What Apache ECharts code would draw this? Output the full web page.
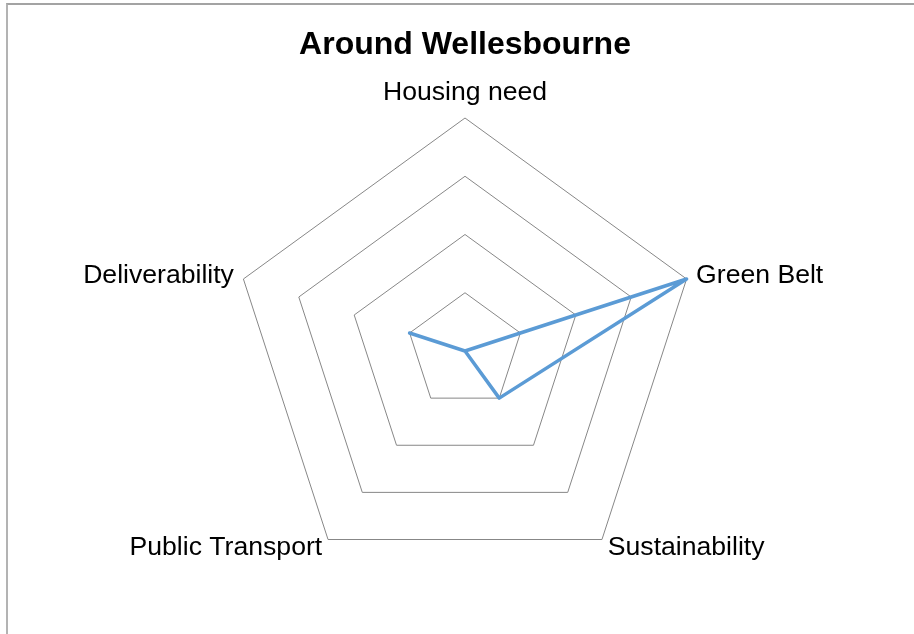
<!DOCTYPE html>
<html lang="en">
<head>
    <meta charset="UTF-8">
    <title>Around Wellesbourne</title>
    <script src="https://cdn.jsdelivr.net/npm/echarts@6/dist/echarts.min.js"></script>
    <style>
        body { margin: 0; background: #fff; }
        /* frame of the original chart area, cropped on the right and bottom */
        .frame {
            position: absolute;
            left: 6px;
            top: 3px;
            width: 1000px;
            height: 1000px;
            border-top: 2px solid #a3a3a3;
            border-left: 2px solid #b3b3b3;
        }
        #chart {
            position: absolute;
            left: 0;
            top: 0;
            width: 914px;
            height: 634px;
        }
    </style>
</head>
<body>
<div class="frame"></div>
<div id="chart"></div>

<script>
    // indicators, listed counter-clockwise from the top (ECharts order)
    const indicatorNames = ['Housing need', 'Deliverability', 'Public Transport', 'Sustainability', 'Green Belt'];
    const scores = [0, 1, 0, 1, 4];
    const maxScore = 4;

    // label style key per indicator (side labels are centred on their vertex)
    const labelStyle = {
        'Housing need': 'top',
        'Deliverability': 'side',
        'Public Transport': 'side',
        'Sustainability': 'side',
        'Green Belt': 'side'
    };

    const chart = echarts.init(document.getElementById('chart'));

    const option = {
        backgroundColor: 'transparent',
        title: {
            text: 'Around Wellesbourne',
            left: 460,
            top: 24,
            textAlign: 'center',
            textStyle: {
                fontFamily: 'Liberation Sans, Arial, sans-serif',
                fontSize: 32,
                fontWeight: 'bold',
                color: '#000'
            }
        },
        radar: {
            center: [465, 351],
            radius: 233,
            startAngle: 90,
            splitNumber: 4,
            shape: 'polygon',
            nameGap: 10,
            indicator: indicatorNames.map(n => ({ name: n, min: 0, max: maxScore })),
            axisName: {
                formatter: function (name) {
                    return '{' + labelStyle[name] + '|' + name + '}';
                },
                rich: {
                    top: {
                        fontFamily: 'Liberation Sans, Arial, sans-serif',
                        fontSize: 26.6,
                        lineHeight: 30,
                        color: '#000'
                    },
                    side: {
                        fontFamily: 'Liberation Sans, Arial, sans-serif',
                        fontSize: 26.6,
                        lineHeight: 1,
                        color: '#000'
                    }
                }
            },
            axisLine: { show: false },
            axisTick: { show: false },
            axisLabel: { show: false },
            splitArea: { show: false },
            splitLine: {
                lineStyle: { color: '#878787', width: 1 }
            }
        },
        series: [{
            type: 'radar',
            symbol: 'none',
            silent: true,
            lineStyle: { color: '#5b9bd5', width: 3.5 },
            data: [{ value: scores, name: 'Around Wellesbourne' }]
        }]
    };

    chart.setOption(option);
</script>
</body>
</html>
